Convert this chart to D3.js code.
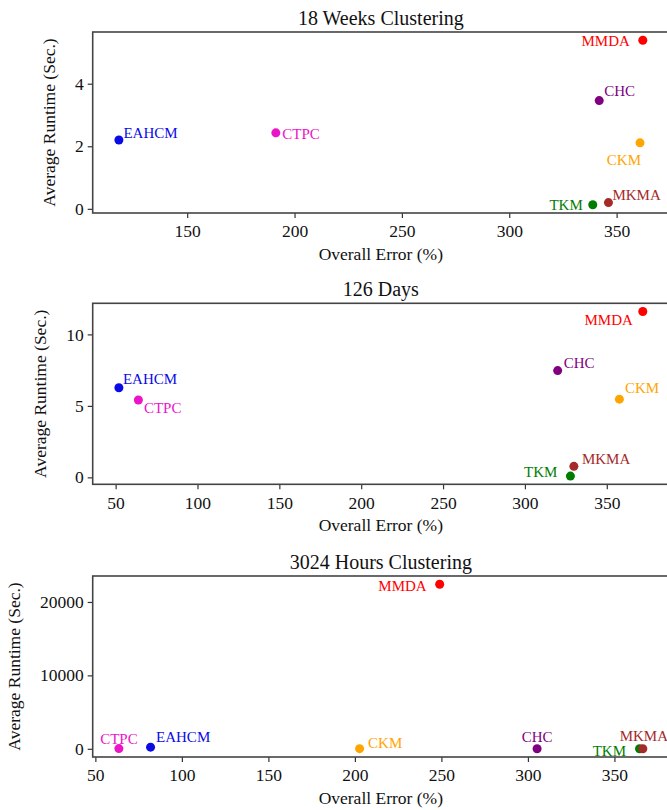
<!DOCTYPE html>
<html>
<head>
<meta charset="utf-8">
<script src="https://cdn.jsdelivr.net/npm/d3@7"></script>
<style>
    body { margin: 0; background: #fff; }
    svg, svg text { font-family: "Liberation Serif", "Times New Roman", serif !important; }
</style>
</head>
<body>
<div id="chart"></div>
<script>
// methods, drawn in this order (TKM sits under MKMA in the last panel)
const methods = ["EAHCM", "CTPC", "CHC", "CKM", "MMDA", "TKM", "MKMA"];

const titles = ["18 Weeks Clustering", "126 Days", "3024 Hours Clustering"];

// overall error (%) and average runtime (sec.) per method
const weeksError = [118.2, 191.3, 341.9, 360.9, 362.2, 338.9, 346.2];
const weeksRuntime = [2.2, 2.43, 3.46, 2.11, 5.39, 0.13, 0.2];

const daysError = [52.0, 63.9, 320.0, 357.7, 372.0, 327.8, 329.9];
const daysRuntime = [6.27, 5.41, 7.47, 5.47, 11.6, 0.09, 0.77];

const hoursError = [81.9, 63.6, 305.3, 202.7, 249.0, 364.5, 366.4];
const hoursRuntime = [228, 30, 10, 20, 22415, 5, 10];

const xTicks = [[150, 200, 250, 300, 350], [50, 100, 150, 200, 250, 300, 350], [50, 100, 150, 200, 250, 300, 350]];
const yTicks = [[0, 2, 4], [0, 5, 10], [0, 10000, 20000]];

const colors = {
    EAHCM: "#0a0ae6",
    CTPC: "#ec14c8",
    CHC: "#800080",
    CKM: "#ffa500",
    MMDA: "#ff0000",
    MKMA: "#a52a2a",
    TKM: "#007d00",
};

// label placement [dx, dy, anchor] per panel
const labelOffsets = [
    {
        EAHCM: [4.5, -2.5, "start"], CTPC: [6.5, 6, "start"], CHC: [5, -5, "start"],
        CKM: [1, 22, "end"], MMDA: [-13, 6, "end"], TKM: [-10, 5, "end"], MKMA: [4, -2.5, "start"],
    },
    {
        EAHCM: [4, -3.5, "start"], CTPC: [5.5, 13, "start"], CHC: [6, -2.5, "start"],
        CKM: [5.5, -6, "start"], MMDA: [-10, 13.5, "end"], TKM: [-13, 1, "end"], MKMA: [8, -2, "start"],
    },
    {
        EAHCM: [5.5, -4.7, "start"], CTPC: [0, -5, "middle"], CHC: [0, -7, "middle"],
        CKM: [8.5, -0.7, "start"], MMDA: [-13, 7, "end"], TKM: [-13.5, 7, "end"], MKMA: [1, -7.5, "middle"],
    },
];

const panels = [
    { title: titles[0], err: weeksError, rt: weeksRuntime },
    { title: titles[1], err: daysError, rt: daysRuntime },
    { title: titles[2], err: hoursError, rt: hoursRuntime },
];

const width = 667;
const height = 810;
const left = 92.7;
const right = 669;
const panelTops = [32, 303.3, 576];
const panelHeight = 181;

const svg = d3
    .select("#chart")
    .append("svg")
    .attr("width", width)
    .attr("height", height);

// matplotlib-style 5% margins
function padded(values) {
    const [a, b] = d3.extent(values);
    const m = (b - a) * 0.05;
    return [a - m, b + m];
}

panels.forEach((p, i) => {
    const top = panelTops[i];
    const bottom = top + panelHeight;
    const rows = methods.map((m, j) => ({ name: m, err: p.err[j], rt: p.rt[j] }));

    const x = d3.scaleLinear().domain(padded(p.err)).range([left, right]);
    const y = d3.scaleLinear().domain(padded(p.rt)).range([bottom, top]);

    const g = svg.append("g");

    // x axis
    const xAxis = g.append("g")
        .attr("transform", `translate(0, ${bottom})`)
        .call(d3.axisBottom(x).tickValues(xTicks[i]).tickSize(5).tickPadding(7).tickFormat(d3.format("d")));
    xAxis.select(".domain").remove();

    // y axis
    const yAxis = g.append("g")
        .attr("transform", `translate(${left}, 0)`)
        .call(d3.axisLeft(y).tickValues(yTicks[i]).tickSize(5).tickPadding(4).tickFormat(d3.format("d")));
    yAxis.select(".domain").remove();

    [xAxis, yAxis].forEach((a) => a.attr("font-family", null).attr("font-size", null));

    g.selectAll(".tick line").attr("stroke", "#333").attr("stroke-width", 1.2);
    g.selectAll(".tick text")
        .style("font-family", "'Liberation Serif', serif")
        .attr("font-size", 17.5)
        .attr("fill", "#111");

    // frame
    g.append("rect")
        .attr("x", left)
        .attr("y", top)
        .attr("width", right - left)
        .attr("height", bottom - top)
        .attr("fill", "none")
        .attr("stroke", "#444")
        .attr("stroke-width", 1.6);

    // title
    g.append("text")
        .attr("x", (left + right) / 2)
        .attr("y", top - 7.5)
        .attr("text-anchor", "middle")
        .attr("font-size", 20)
        .attr("fill", "#111")
        .text(p.title);

    // axis labels
    g.append("text")
        .attr("x", (left + right) / 2)
        .attr("y", bottom + 46.5)
        .attr("text-anchor", "middle")
        .attr("font-size", 17.5)
        .attr("fill", "#111")
        .text("Overall Error (%)");

    const minX = d3.min(yAxis.selectAll(".tick text").nodes(), (n) => {
        const b = n.getBBox();
        return left - 9 + b.x;
    });
    g.append("text")
        .attr("transform", `translate(${minX - 11}, ${(top + bottom) / 2}) rotate(-90)`)
        .attr("text-anchor", "middle")
        .attr("font-size", 17.5)
        .attr("fill", "#111")
        .text("Average Runtime (Sec.)");

    // dots
    g.append("g")
        .selectAll("circle")
        .data(rows)
        .join("circle")
        .attr("cx", (d) => x(d.err))
        .attr("cy", (d) => y(d.rt))
        .attr("r", 4.5)
        .attr("fill", (d) => colors[d.name]);

    // labels
    g.append("g")
        .selectAll("text")
        .data(rows)
        .join("text")
        .attr("x", (d) => x(d.err) + labelOffsets[i][d.name][0])
        .attr("y", (d) => y(d.rt) + labelOffsets[i][d.name][1])
        .attr("text-anchor", (d) => labelOffsets[i][d.name][2])
        .attr("font-size", 15)
        .attr("fill", (d) => colors[d.name])
        .text((d) => d.name);
});
</script>
</body>
</html>
